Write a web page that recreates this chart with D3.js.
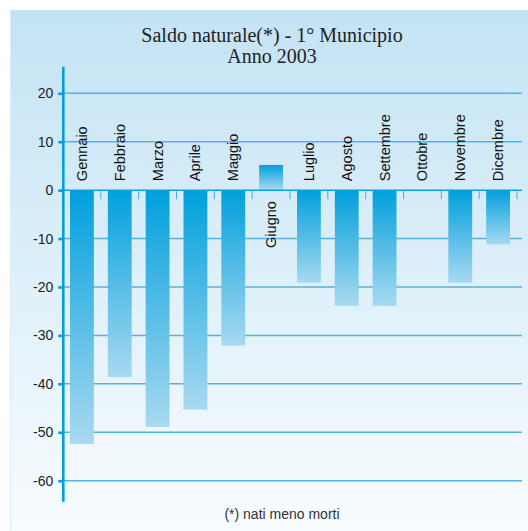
<!DOCTYPE html>
<html><head><meta charset="utf-8">
<script src="https://cdn.jsdelivr.net/npm/d3@7"></script>
<style>html,body{margin:0;padding:0;background:#fff;}svg{display:block;}</style>
</head><body>
<script>
const months = ["Gennaio","Febbraio","Marzo","Aprile","Maggio","Giugno","Luglio","Agosto","Settembre","Ottobre","Novembre","Dicembre"];
const saldo = [-52.4,-38.6,-48.9,-45.3,-32.1,5.2,-19.1,-23.9,-23.9,0,-19.1,-11.2];
const yTicks = [20,10,0,-10,-20,-30,-40,-50,-60];
const titleLines = ["Saldo naturale(*) - 1° Municipio","Anno 2003"];
const footnote = "(*) nati meno morti";

const W = 528, H = 531;
const svg = d3.select("body").append("svg").attr("width", W).attr("height", H);
const defs = svg.append("defs");
const bg = defs.append("linearGradient").attr("id","bg").attr("x1",0).attr("y1",0).attr("x2",0).attr("y2",1);
bg.append("stop").attr("offset","0%").attr("stop-color","#c3e3f4");
bg.append("stop").attr("offset","100%").attr("stop-color","#f8fcfe");
const bar = defs.append("linearGradient").attr("id","bar").attr("x1",0).attr("y1",0).attr("x2",0).attr("y2",1);
bar.append("stop").attr("offset","0%").attr("stop-color","#00a0dc");
bar.append("stop").attr("offset","100%").attr("stop-color","#a8d9f1");

svg.append("rect").attr("x",10).attr("y",10).attr("width",W-10).attr("height",H-10).attr("fill","url(#bg)");
svg.append("line").attr("x1",10.5).attr("x2",10.5).attr("y1",10).attr("y2",H).attr("stroke","#d8eef9").attr("stroke-width",1);

const y = d3.scaleLinear().domain([20,-60]).range([93.3,480.7]);
const x = d3.scaleBand().domain(months).range([63,517]).paddingInner(0.37).paddingOuter(0.185);

// gridlines
svg.append("g").selectAll("line").data(yTicks.filter(d=>d!==0)).join("line")
  .attr("x1",63).attr("x2",522).attr("y1",d=>y(d)).attr("y2",d=>y(d))
  .attr("stroke","#4fb5e2").attr("stroke-width",1.5);

// bars
svg.append("g").selectAll("rect").data(saldo).join("rect")
  .attr("x",(d,i)=>x(months[i]))
  .attr("width",x.bandwidth())
  .attr("y",d=>y(Math.max(0,d)))
  .attr("height",d=>Math.abs(y(d)-y(0)))
  .attr("fill","url(#bar)");

// x axis at zero
svg.append("line").attr("x1",63).attr("x2",522).attr("y1",y(0)).attr("y2",y(0))
  .attr("stroke","#0aa2dc").attr("stroke-width",1.5);
const bounds = months.map((m,i)=>x(m)-x.step()*x.paddingInner()/2 + x.step());
svg.append("g").selectAll("line").data(bounds).join("line")
  .attr("x1",d=>d).attr("x2",d=>d).attr("y1",y(0)).attr("y2",y(0)+9)
  .attr("stroke","#3fb0e0").attr("stroke-width",1);

// y axis
const yAxis = d3.axisLeft(y).tickValues(yTicks).tickSize(5).tickPadding(5).tickFormat(d=>String(d));
const yg = svg.append("g").attr("transform","translate(63.3,0)").call(yAxis);
yg.select(".domain").remove();
yg.append("line").attr("x1",0).attr("x2",0).attr("y1",66.7).attr("y2",501.7).attr("stroke","#00a0dc").attr("stroke-width",2.6);
yg.selectAll(".tick line").attr("stroke","#00a0dc").attr("stroke-width",2.6);
yg.selectAll(".tick text").attr("fill","#222").style("font-family","'Liberation Sans', Arial, sans-serif").style("font-size","14px");

// month labels
svg.append("g").selectAll("text").data(saldo).join("text")
  .attr("transform",(d,i)=>{
    const cx = x(months[i]) + x.bandwidth()/2 + 5;
    const ty = d > 0 ? y(0) + 11 : y(0) - 9;
    return `translate(${cx},${ty}) rotate(-90)`;
  })
  .attr("text-anchor",d=> d > 0 ? "end" : "start")
  .attr("fill","#111")
  .style("font-family","'Liberation Sans', Arial, sans-serif").style("font-size","14.5px")
  .text((d,i)=>months[i]);

// title
svg.append("g").selectAll("text").data(titleLines).join("text")
  .attr("x",272).attr("y",(d,i)=>42+i*21)
  .attr("text-anchor","middle").attr("fill","#222")
  .style("font-family","'Liberation Serif', 'Times New Roman', serif").style("font-size","20px")
  .text(d=>d);

svg.append("text").attr("x",282).attr("y",519).attr("text-anchor","middle").attr("fill","#333")
  .style("font-family","'Liberation Sans', Arial, sans-serif").style("font-size","14px").text(footnote);
</script>
</body></html>
